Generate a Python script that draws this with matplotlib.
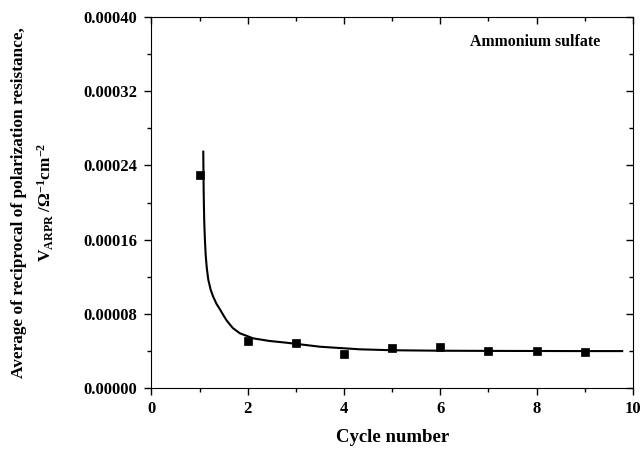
import matplotlib.pyplot as plt
from matplotlib.ticker import MultipleLocator, FormatStrFormatter

plt.rcParams['font.family'] = ['Liberation Serif', 'DejaVu Serif']
plt.rcParams['font.weight'] = 'bold'
plt.rcParams['mathtext.fontset'] = 'custom'
plt.rcParams['mathtext.rm'] = 'Liberation Serif:bold'
plt.rcParams['mathtext.it'] = 'Liberation Serif:bold'
plt.rcParams['mathtext.bf'] = 'Liberation Serif:bold'

# measured points
cycles = [1, 2, 3, 4, 5, 6, 7, 8, 9]
vapr = [0.000230, 0.0000507, 0.0000485, 0.0000367, 0.0000431,
        0.0000442, 0.0000399, 0.0000400, 0.0000388]

# fitted curve
fit_x = [1.076, 1.080, 1.084, 1.090, 1.097, 1.110, 1.126, 1.15, 1.18, 1.23,
         1.283, 1.35, 1.423, 1.49, 1.562, 1.69, 1.838, 2.114, 2.45, 2.808,
         3.50, 4.33, 5.0, 6.0, 7.0, 8.0, 9.0, 9.78]
fit_y = [0.0002547, 0.0002330, 0.0002135, 0.0001950, 0.0001779, 0.0001600,
         0.0001435, 0.0001290, 0.0001170, 0.0001060, 0.0000985, 0.0000910,
         0.0000850, 0.0000790, 0.0000730, 0.0000649, 0.0000592, 0.0000538,
         0.0000510, 0.0000491, 0.0000448, 0.0000420, 0.0000410, 0.0000405,
         0.0000403, 0.0000402, 0.0000401, 0.0000401]

fig = plt.figure(figsize=(6.4, 4.5), dpi=100)
ax = fig.add_axes([0.2367, 0.137, 0.752, 0.826])

ax.plot(fit_x, fit_y, color='black', linewidth=1.5, zorder=2)
ax.plot(cycles, vapr, linestyle='none', marker='s', markersize=5.8,
        markeredgewidth=0.5, color='black', zorder=3)

ax.set_xlim(0, 10)
ax.set_ylim(0, 0.0004)
ax.xaxis.set_major_locator(MultipleLocator(2))
ax.xaxis.set_minor_locator(MultipleLocator(1))
ax.yaxis.set_major_locator(MultipleLocator(0.00008))
ax.yaxis.set_minor_locator(MultipleLocator(0.00004))
ax.yaxis.set_major_formatter(FormatStrFormatter('%.5f'))

ax.tick_params(which='both', direction='out', top=True, right=True, width=1)
ax.tick_params(which='major', length=5, labelsize=12)
ax.tick_params(which='minor', length=3)
ax.tick_params(axis='x', which='major', pad=4)
ax.tick_params(axis='y', which='major', pad=5)
# top/right ticks point inward
for t in ax.xaxis.get_major_ticks() + ax.xaxis.get_minor_ticks():
    t.tick2line.set_marker(3)
for t in ax.yaxis.get_major_ticks() + ax.yaxis.get_minor_ticks():
    t.tick2line.set_marker(0)

for lab in ax.get_xticklabels() + ax.get_yticklabels():
    lab.set_fontweight('bold')

ax.set_xlabel('Cycle number', fontsize=13.5, fontweight='bold')
ax.xaxis.set_label_coords(0.5, -0.11)
ax.set_ylabel('Average of reciprocal of polarization resistance,\n'
              'V$_{\\mathrm{ARPR}}$ /\u03a9$^{-1}$cm$^{-2}$',
              fontsize=12.4, fontweight='bold', linespacing=1.55)
ax.yaxis.set_label_coords(-0.198, 0.5)

ax.text(0.797, 0.932, 'Ammonium sulfate', transform=ax.transAxes,
        ha='center', va='center', fontsize=11.4, fontweight='bold')

fig.savefig('out.png', dpi=100)
